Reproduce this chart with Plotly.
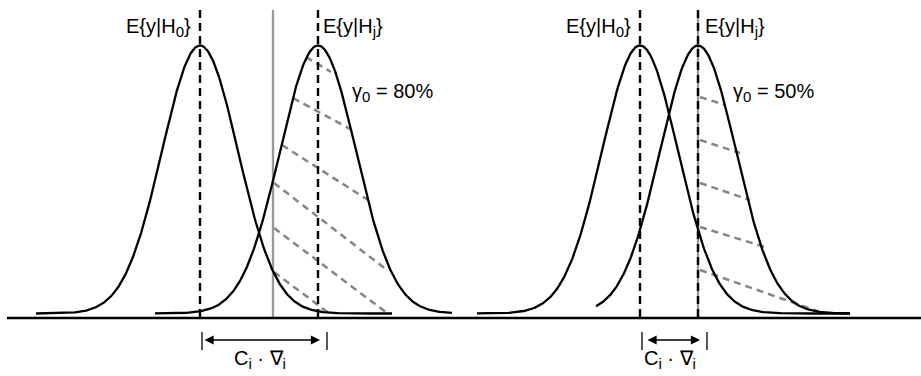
import numpy as np
import plotly.graph_objects as go

# ---------------- data (pixel-like units) ----------------
panel_names = ["gamma80", "gamma50"]
mean_H0 = [200, 640]
mean_Hj = [318, 698]
sigma = [38, 38]
curve_base = 313.5
curve_peak = 45.5
H0_start = [36, 477]
H0_end = [392, 850]
Hj_start = [155, 596]
Hj_end = [452, 850]
threshold_x = [273, 698]
vline_top = 10
axis_y = 318
axis_x = [7, 921]

# hatch lines per panel: start (x, y) -> end (x, y)
hatch_left_x0 = [306, 293, 282, 274, 274, 274]
hatch_left_y0 = [57, 98, 145, 183, 228, 272]
hatch_left_x1 = [331, 352, 368, 387, 387, 330]
hatch_left_y1 = [72, 130, 200, 270, 313, 314]
hatch_right_x0 = [700, 700, 700, 700, 700]
hatch_right_y0 = [97, 140, 183, 227, 270]
hatch_right_x1 = [725, 740, 750, 765, 823]
hatch_right_y1 = [105, 153, 200, 247, 313]

SUB = '<sub><span style="font-size:15px">{}</span></sub>'
gamma_labels = ["γ" + SUB.format("0") + " = 80%", "γ" + SUB.format("0") + " = 50%"]
gamma_label_x = [350, 731]
H0_label = "E{y|H" + SUB.format("0") + "}"
Hj_label = "E{y|H" + SUB.format("j") + "}"
H0_label_right = [193, 633]
Hj_label_left = [321, 703]
delta_label = "C" + SUB.format("i") + " · ∇" + SUB.format("i")
arrow_from = [203, 646]
arrow_to = [320, 700]
arrow_y = 340
bracket_x = [[202, 327], [642, 707]]
bracket_y = [332, 350]

FONT = "Liberation Sans, Arial, Helvetica, sans-serif"

fig = go.Figure()

# hatch lines
for xs0, ys0, xs1, ys1 in [(hatch_left_x0, hatch_left_y0, hatch_left_x1, hatch_left_y1),
                           (hatch_right_x0, hatch_right_y0, hatch_right_x1, hatch_right_y1)]:
    for a, b, c, d in zip(xs0, ys0, xs1, ys1):
        fig.add_trace(go.Scatter(x=[a, c], y=[b, d], mode="lines",
                                 line=dict(color="#858585", width=2.5, dash="7px,5px"),
                                 hoverinfo="skip", showlegend=False))

# threshold (gray) lines
for tx in threshold_x:
    fig.add_trace(go.Scatter(x=[tx, tx], y=[vline_top, axis_y], mode="lines",
                             line=dict(color="#999999", width=2.3),
                             hoverinfo="skip", showlegend=False))

# gaussian curves
amp = curve_base - curve_peak
for i in range(2):
    for mu, s, e in [(mean_H0[i], H0_start[i], H0_end[i]), (mean_Hj[i], Hj_start[i], Hj_end[i])]:
        xx = np.linspace(s, e, 400)
        yy = curve_base - amp * np.exp(-(xx - mu) ** 2 / (2 * sigma[i] ** 2))
        fig.add_trace(go.Scatter(x=xx, y=yy, mode="lines",
                                 line=dict(color="black", width=2.3),
                                 hoverinfo="skip", showlegend=False))

# dashed expectation lines
for i in range(2):
    for mu in [mean_H0[i], mean_Hj[i]]:
        fig.add_trace(go.Scatter(x=[mu, mu], y=[vline_top, axis_y], mode="lines",
                                 line=dict(color="black", width=2.4, dash="8px,5px"),
                                 hoverinfo="skip", showlegend=False))

# baseline axis
fig.add_trace(go.Scatter(x=axis_x, y=[axis_y, axis_y], mode="lines",
                         line=dict(color="black", width=2.6),
                         hoverinfo="skip", showlegend=False))

# brackets
for bx in bracket_x:
    for xv in bx:
        fig.add_trace(go.Scatter(x=[xv, xv], y=bracket_y, mode="lines",
                                 line=dict(color="black", width=1.3),
                                 hoverinfo="skip", showlegend=False))

# arrows
for i in range(2):
    fig.add_annotation(x=arrow_to[i], y=arrow_y, ax=arrow_from[i], ay=arrow_y,
                       xref="x", yref="y", axref="x", ayref="y", text="",
                       showarrow=True, arrowhead=2, startarrowhead=2,
                       arrowside="end+start", arrowwidth=1.3,
                       arrowsize=1.4, startarrowsize=1.4, arrowcolor="black")

# labels
txtfont = dict(family=FONT, size=20, color="black")
for i in range(2):
    fig.add_annotation(x=H0_label_right[i], y=27, xref="x", yref="y", text=H0_label,
                       showarrow=False, xanchor="right", yanchor="middle", font=txtfont)
    fig.add_annotation(x=Hj_label_left[i], y=27, xref="x", yref="y", text=Hj_label,
                       showarrow=False, xanchor="left", yanchor="middle", font=txtfont)
    fig.add_annotation(x=gamma_label_x[i], y=92, xref="x", yref="y", text=gamma_labels[i],
                       showarrow=False, xanchor="left", yanchor="middle", font=txtfont)
    fig.add_annotation(x=(bracket_x[i][0] + bracket_x[i][1]) / 2 - 5, y=359, xref="x", yref="y",
                       text=delta_label, showarrow=False, xanchor="center", yanchor="middle",
                       font=txtfont)

fig.update_layout(
    width=921, height=376,
    margin=dict(l=0, r=0, t=0, b=0),
    paper_bgcolor="white", plot_bgcolor="white",
    xaxis=dict(range=[0, 921], visible=False, fixedrange=True),
    yaxis=dict(range=[376, 0], visible=False, fixedrange=True),
    showlegend=False,
)

fig.write_html("out.html", config={"displayModeBar": False})
